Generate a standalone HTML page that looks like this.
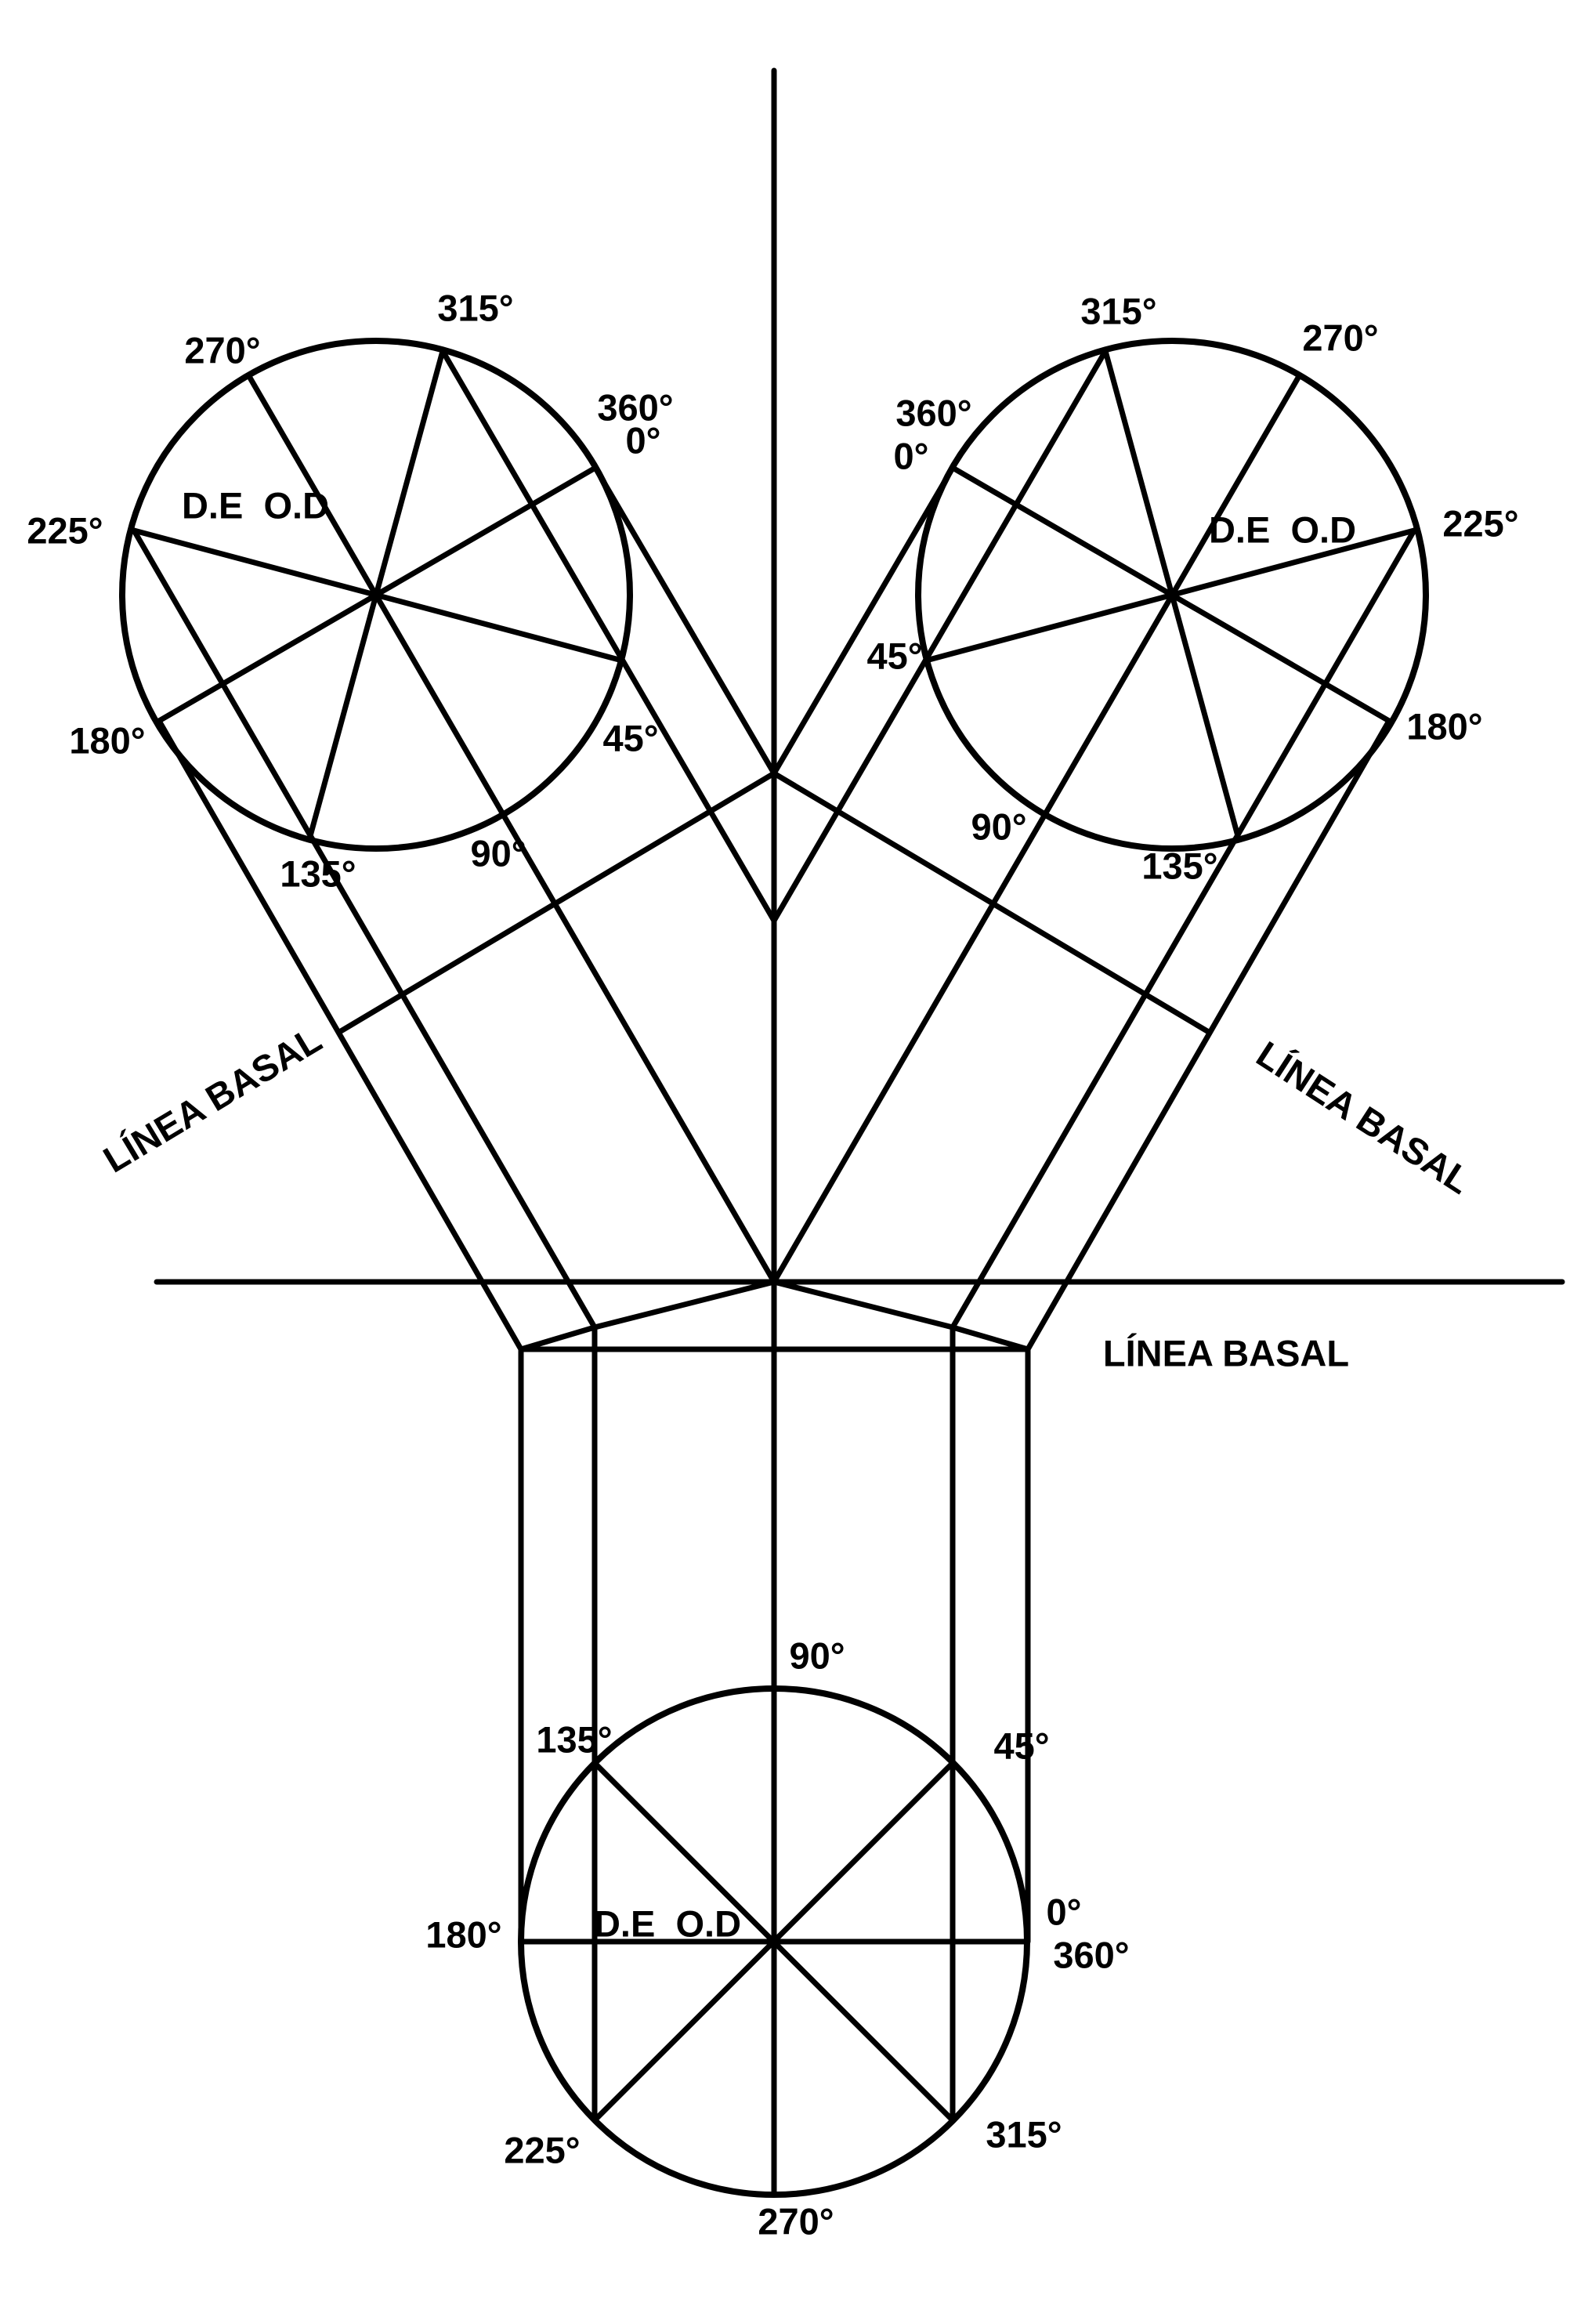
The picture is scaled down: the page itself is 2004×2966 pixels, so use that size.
<!DOCTYPE html>
<html><head><meta charset="utf-8"><style>
html,body{margin:0;padding:0;background:#fff;}
svg{display:block;}
text{font-family:"Liberation Sans",Arial,sans-serif;font-weight:bold;fill:#000;white-space:pre;}
</style></head><body>
<svg width="2004" height="2966" viewBox="0 0 2004 2966" xmlns="http://www.w3.org/2000/svg">
<g stroke="#000" stroke-width="7" fill="none" stroke-linecap="round" stroke-linejoin="round">
<line x1="988" y1="90" x2="988" y2="2801"/>
<line x1="200" y1="1636" x2="1994" y2="1636"/>
<circle cx="480" cy="759" r="324" stroke-width="8"/>
<line x1="171" y1="677" x2="794" y2="843"/>
<line x1="760" y1="597" x2="203" y2="920"/>
<line x1="565" y1="448" x2="396" y2="1067"/>
<line x1="319" y1="482" x2="988" y2="1636"/>
<line x1="171" y1="677" x2="759" y2="1694"/>
<line x1="565" y1="448" x2="988" y2="1175"/>
<line x1="760" y1="597" x2="988" y2="987"/>
<line x1="203" y1="920" x2="665" y2="1722"/>
<line x1="435" y1="1316" x2="988" y2="987"/>
<circle cx="1496" cy="759" r="324" stroke-width="8"/>
<line x1="1805" y1="677" x2="1182" y2="843"/>
<line x1="1216" y1="597" x2="1773" y2="920"/>
<line x1="1411" y1="448" x2="1580" y2="1067"/>
<line x1="1657" y1="482" x2="988" y2="1636"/>
<line x1="1805" y1="677" x2="1216" y2="1694"/>
<line x1="1411" y1="448" x2="988" y2="1175"/>
<line x1="1216" y1="597" x2="988" y2="987"/>
<line x1="1773" y1="920" x2="1312" y2="1722"/>
<line x1="1541" y1="1316" x2="988" y2="987"/>
<polyline points="665,1722 759,1694 988,1636 1216,1694 1312,1722"/>
<line x1="665" y1="1722" x2="1312" y2="1722"/>
<line x1="665" y1="1722" x2="665" y2="2478"/>
<line x1="1312" y1="1722" x2="1312" y2="2478"/>
<line x1="759" y1="1694" x2="759" y2="2706"/>
<line x1="1216" y1="1694" x2="1216" y2="2706"/>
<circle cx="988" cy="2478" r="323" stroke-width="8"/>
<line x1="665" y1="2478" x2="1311" y2="2478"/>
<line x1="759" y1="2250" x2="1216" y2="2706"/>
<line x1="1216" y1="2250" x2="759" y2="2706"/>
</g>
<g font-size="47" text-anchor="middle" dominant-baseline="central">
<text x="607" y="393">315°</text>
<text x="284" y="447">270°</text>
<text x="811" y="520">360°</text>
<text x="821" y="562">0°</text>
<text x="326" y="645">D.E  O.D</text>
<text x="83" y="677">225°</text>
<text x="137" y="945">180°</text>
<text x="805" y="942">45°</text>
<text x="406" y="1115">135°</text>
<text x="636" y="1089">90°</text>
<text x="1428" y="397">315°</text>
<text x="1711" y="431">270°</text>
<text x="1192" y="527">360°</text>
<text x="1163" y="582">0°</text>
<text x="1637" y="676">D.E  O.D</text>
<text x="1890" y="668">225°</text>
<text x="1844" y="927">180°</text>
<text x="1142" y="837">45°</text>
<text x="1506" y="1105">135°</text>
<text x="1275" y="1055">90°</text>
<text x="1043" y="2113">90°</text>
<text x="733" y="2220">135°</text>
<text x="1304" y="2228">45°</text>
<text x="1358" y="2440">0°</text>
<text x="1393" y="2495">360°</text>
<text x="592" y="2469">180°</text>
<text x="852" y="2455">D.E  O.D</text>
<text x="692" y="2744">225°</text>
<text x="1307" y="2724">315°</text>
<text x="1016" y="2835">270°</text>
<text x="1565" y="1727">LÍNEA BASAL</text>
<text x="271" y="1403" transform="rotate(-31 271 1403)">LÍNEA BASAL</text>
<text x="1741" y="1426" transform="rotate(33 1741 1426)">LÍNEA BASAL</text>
</g>
</svg>
</body></html>
